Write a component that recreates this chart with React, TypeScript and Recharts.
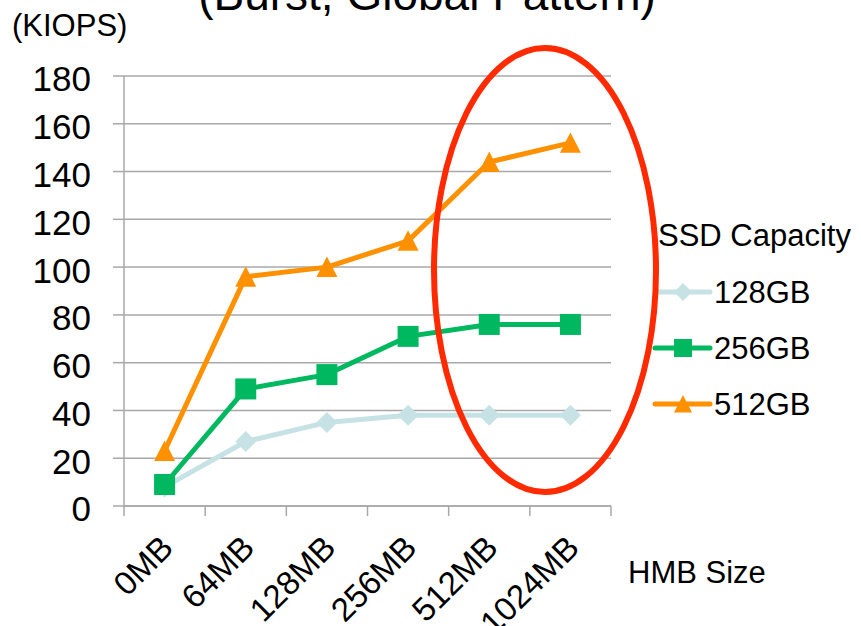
import React from 'react'
import { LineChart, Line, XAxis, YAxis, CartesianGrid } from 'recharts'

const sizes = ['0MB', '64MB', '128MB', '256MB', '512MB', '1024MB']
const cap128 = [8, 27, 35, 38, 38, 38]
const cap256 = [9, 49, 55, 71, 76, 76]
const cap512 = [23, 96, 100, 111, 144, 152]
const yTicks = [0, 20, 40, 60, 80, 100, 120, 140, 160, 180]

const series = [
  { key: 'c128', name: '128GB', color: '#c6e2e5', shape: 'diamond' },
  { key: 'c256', name: '256GB', color: '#00b85f', shape: 'square' },
  { key: 'c512', name: '512GB', color: '#ff9000', shape: 'triangle' },
]

// categories sit in the middle of each band, band edges get the tick marks
const data = sizes.map((s, i) => ({
  size: s,
  x: i + 0.5,
  c128: cap128[i],
  c256: cap256[i],
  c512: cap512[i],
}))
const xTicks = Array.from({ length: sizes.length * 2 + 1 }, (_, i) => i / 2)

const FONT = '"Liberation Sans", Arial, sans-serif'
const GRID = '#a8a8a8'

function Marker({ cx, cy, shape, color, r = 10.5 }: any) {
  if (cx == null || cy == null) return null
  if (shape === 'diamond')
    return <polygon points={`${cx},${cy - r} ${cx + r},${cy} ${cx},${cy + r} ${cx - r},${cy}`} fill={color} />
  if (shape === 'square')
    return <rect x={cx - r} y={cy - r} width={r * 2} height={r * 2} fill={color} />
  return <polygon points={`${cx},${cy - r} ${cx + r},${cy + r * 0.95} ${cx - r},${cy + r * 0.95}`} fill={color} />
}

function SizeTick({ x, y, payload }: any) {
  const v = payload.value
  if (Number.isInteger(v)) return <line x1={x} y1={y} x2={x} y2={y + 10} stroke={GRID} strokeWidth={1.5} />
  const ax = x - 6
  const ay = y + 27
  return (
    <text
      x={ax}
      y={ay}
      dy="0.71em"
      textAnchor="end"
      fontSize={33}
      fontFamily={FONT}
      fill="#000"
      transform={`rotate(-45, ${ax}, ${ay})`}
    >
      {sizes[Math.floor(v)]}
    </text>
  )
}

function YTick({ x, y, payload }: any) {
  return (
    <text x={x} y={y + 3} dy="0.355em" textAnchor="end" fontSize={35} fontFamily={FONT} fill="#000">
      {payload.value}
    </text>
  )
}

function LegendBox() {
  return (
    <svg width={211} height={210} style={{ position: 'absolute', left: 650, top: 215, pointerEvents: 'none' }}>
      <text x={8} y={31} fontSize={31} fontFamily={FONT} fill="#000">SSD Capacity</text>
      {series.map((s, i) => {
        const cy = 77 + i * 56
        return (
          <g key={s.key}>
            <line x1={5} y1={cy} x2={60} y2={cy} stroke={s.color} strokeWidth={5} strokeLinecap="round" />
            <Marker cx={33} cy={cy} shape={s.shape} color={s.color} r={9} />
            <text x={64} y={cy + 11} fontSize={31} fontFamily={FONT} fill="#000">{s.name}</text>
          </g>
        )
      })}
    </svg>
  )
}

export default function App() {
  return (
    <div style={{ position: 'absolute', left: 0, top: 0, width: 861, height: 626, background: '#fff', overflow: 'hidden', fontFamily: FONT }}>
      <LineChart width={861} height={626} data={data} margin={{ top: 76, right: 250, bottom: 0, left: 0 }}>
        <CartesianGrid vertical={false} stroke={GRID} strokeWidth={1.5} />
        <XAxis
          dataKey="x"
          type="number"
          domain={[0, sizes.length]}
          ticks={xTicks}
          interval={0}
          height={120}
          tickLine={false}
          tickSize={0}
          tickMargin={0}
          axisLine={{ stroke: GRID, strokeWidth: 1.5 }}
          tick={<SizeTick />}
        />
        <YAxis
          type="number"
          domain={[0, 180]}
          ticks={yTicks}
          interval={0}
          width={124}
          tickSize={11}
          tickMargin={22}
          tickLine={{ stroke: GRID, strokeWidth: 1.5 }}
          axisLine={{ stroke: GRID, strokeWidth: 1.5 }}
          tick={<YTick />}
        />
        {series.map((s) => (
          <Line
            key={s.key}
            dataKey={s.key}
            name={s.name}
            stroke={s.color}
            strokeWidth={5}
            strokeLinejoin="round"
            isAnimationActive={false}
            activeDot={false}
            dot={(p: any) => <Marker key={`${s.key}-${p.index}`} cx={p.cx} cy={p.cy} shape={s.shape} color={s.color} />}
          />
        ))}
      </LineChart>
      <LegendBox />
      <svg width={861} height={626} style={{ position: 'absolute', left: 0, top: 0, pointerEvents: 'none' }}>
        <text x={427} y={10} textAnchor="middle" fontSize={46} fontFamily={FONT} fill="#000">(Burst, Global Pattern)</text>
        <text x={12} y={36} fontSize={31} fontFamily={FONT} fill="#000">(KIOPS)</text>
        <text x={628} y={583} fontSize={31} fontFamily={FONT} fill="#000">HMB Size</text>
        <ellipse cx={545} cy={270} rx={111} ry={222} fill="none" stroke="#ff2a00" strokeWidth={6} />
      </svg>
    </div>
  )
}
